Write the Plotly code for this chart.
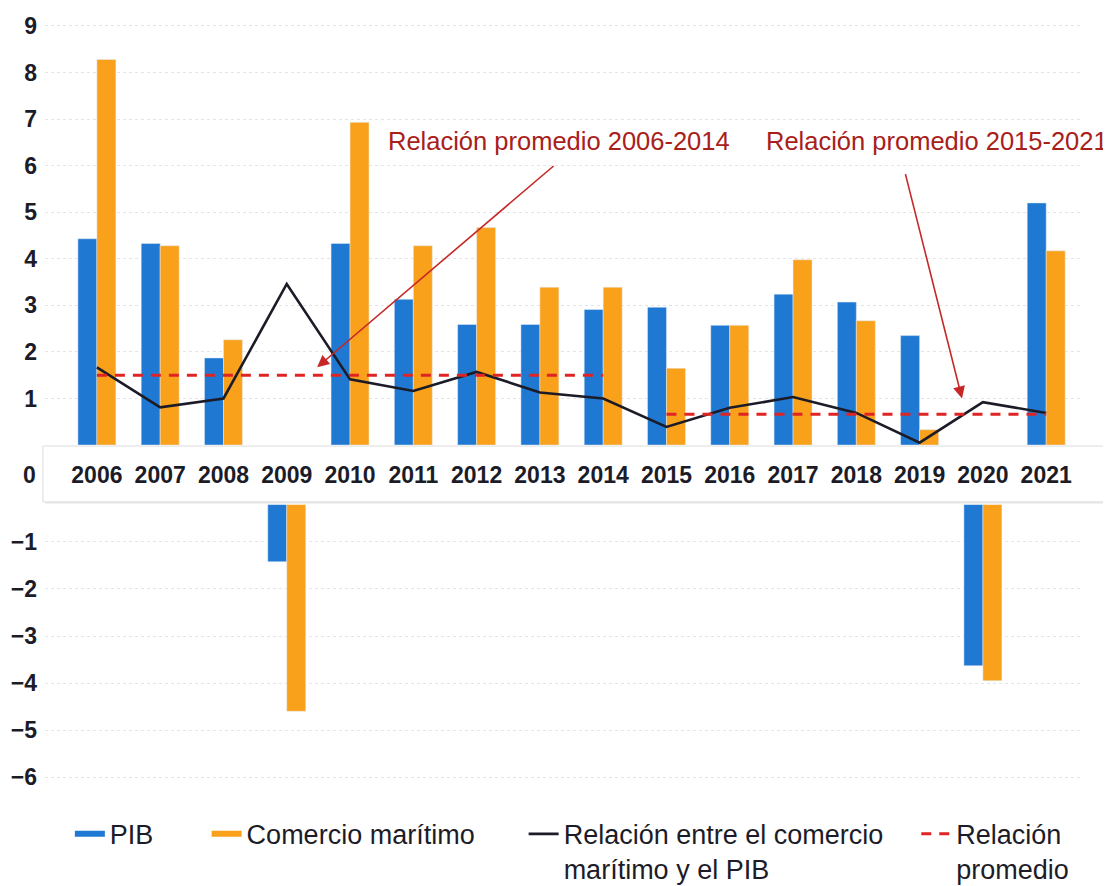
import plotly.graph_objects as go

years = list(range(2006, 2022))
pib = [4.43, 4.33, 1.87, -1.42, 4.33, 3.13, 2.59, 2.59, 2.91, 2.96, 2.57, 3.24, 3.07, 2.35, -3.63, 5.2]
comercio = [8.28, 4.28, 2.26, -4.6, 6.93, 4.28, 4.67, 3.39, 3.39, 1.65, 2.57, 3.98, 2.67, 0.33, -3.95, 4.17]
relacion = [1.67, 0.81, 1.0, 3.46, 1.41, 1.16, 1.57, 1.13, 1.0, 0.39, 0.8, 1.03, 0.69, 0.05, 0.92, 0.69]
years_p1 = years[:9]
years_p2 = years[9:]
prom_p1 = [1.5] * len(years_p1)
prom_p2 = [0.66] * len(years_p2)

AZUL = "#1f78d2"
NARANJA = "#f9a11b"
NEGRO = "#1c1c28"
ROJO = "#e02424"
FONT = "Liberation Sans, Arial, sans-serif"

# positive values go on the upper panel, negative on the lower one
pib_pos = [v if v > 0 else None for v in pib]
pib_neg = [v if v < 0 else None for v in pib]
com_pos = [v if v > 0 else None for v in comercio]
com_neg = [v if v < 0 else None for v in comercio]

fig = go.Figure()

fig.add_trace(go.Bar(x=years, y=pib_pos, marker_color=AZUL, showlegend=False, offsetgroup="a"))
fig.add_trace(go.Bar(x=years, y=com_pos, marker_color=NARANJA, showlegend=False, offsetgroup="b"))
fig.add_trace(go.Bar(x=years, y=pib_neg, marker_color=AZUL, showlegend=False, offsetgroup="a",
                     xaxis="x2", yaxis="y2"))
fig.add_trace(go.Bar(x=years, y=com_neg, marker_color=NARANJA, showlegend=False, offsetgroup="b",
                     xaxis="x2", yaxis="y2"))

fig.add_trace(go.Scatter(x=years, y=relacion, mode="lines", line=dict(color=NEGRO, width=2.6),
                         name="Relación entre el comercio<br>marítimo y el PIB", legend="legend3"))
fig.add_trace(go.Scatter(x=years_p1, y=prom_p1, mode="lines", line=dict(color=ROJO, width=3, dash="10px,8px"),
                         name="Relación<br>promedio", legend="legend4"))
fig.add_trace(go.Scatter(x=years_p2, y=prom_p2, mode="lines", line=dict(color=ROJO, width=3, dash="10px,8px"),
                         showlegend=False))

# legend-only entries for the bars (drawn as short thick lines)
fig.add_trace(go.Scatter(x=[None], y=[None], mode="lines", line=dict(color=AZUL, width=6),
                         name="PIB", legend="legend"))
fig.add_trace(go.Scatter(x=[None], y=[None], mode="lines", line=dict(color=NARANJA, width=6),
                         name="Comercio marítimo", legend="legend2"))

leg = dict(orientation="v", xanchor="left", yanchor="top", y=0.0847, bgcolor="rgba(0,0,0,0)",
           font=dict(family=FONT, size=27, color=NEGRO), itemwidth=30, valign="top")

tick_font = dict(family=FONT, size=23, weight="bold", color=NEGRO)

fig.update_layout(
    width=1111, height=886,
    margin=dict(l=37, r=38, t=0, b=0),
    paper_bgcolor="white", plot_bgcolor="white",
    font=dict(family=FONT, color=NEGRO),
    barmode="group", bargap=0.4, bargroupgap=0,
    xaxis=dict(domain=[0, 1], range=[2005.18, 2021.55], anchor="y", tickvals=years, tickangle=0,
               ticks="", showline=False, showgrid=False, zeroline=False, ticklabelstandoff=14,
               automargin=False, tickfont=dict(family=FONT, size=23, weight="bold", color=NEGRO)),
    yaxis=dict(domain=[0.5011, 1.0], range=[0, 9.386], tickvals=list(range(1, 10)),
               showgrid=True, gridcolor="#e4e4e4", griddash="dot", zeroline=False, automargin=False,
               ticks="", ticklabelstandoff=7, tickfont=tick_font),
    xaxis2=dict(domain=[0, 1], range=[2005.18, 2021.55], anchor="y2", matches="x", automargin=False,
                showticklabels=False, showgrid=False, zeroline=False, showline=False),
    yaxis2=dict(domain=[0.0971, 0.4328], range=[-6.462, -0.212], tickvals=list(range(-6, 0)),
                showgrid=True, gridcolor="#e4e4e4", griddash="dot", zeroline=False, automargin=False,
                ticks="", ticklabelstandoff=7, tickfont=tick_font),
    legend=dict(leg, x=0.024),
    legend2=dict(leg, x=0.156),
    legend3=dict(leg, x=0.462),
    legend4=dict(leg, x=0.841),
)

# white band that carries the year labels
fig.add_shape(type="rect", xref="paper", yref="paper", x0=0.0, x1=1.04, y0=0.4340, y1=0.4978,
              fillcolor="#ececec", line=dict(width=0), layer="below")
fig.add_shape(type="rect", xref="paper", yref="paper", x0=-0.002, x1=1.04, y0=0.4362, y1=0.5,
              fillcolor="white", line=dict(color="#dcdcdc", width=1), layer="below")

fig.add_annotation(xref="paper", yref="paper", x=-0.007, y=0.467, text="0", showarrow=False,
                   xanchor="right", yanchor="middle", font=tick_font)

ROJO_TXT = "#a8201a"
fig.add_annotation(x=2013.3, y=6.52, xref="x", yref="y", text="Relación promedio 2006-2014",
                   showarrow=False, font=dict(family=FONT, size=25.5, color=ROJO_TXT))
fig.add_annotation(x=2019.28, y=6.52, xref="x", yref="y", text="Relación promedio 2015-2021",
                   showarrow=False, font=dict(family=FONT, size=25.5, color=ROJO_TXT))
fig.add_annotation(x=2009.48, y=1.67, ax=2013.24, ay=6.02, xref="x", yref="y", axref="x", ayref="y",
                   text="", showarrow=True, arrowhead=2, arrowsize=1.5, arrowwidth=1.6, arrowcolor="#c62828")
fig.add_annotation(x=2019.67, y=1.0, ax=2018.77, ay=5.85, xref="x", yref="y", axref="x", ayref="y",
                   text="", showarrow=True, arrowhead=2, arrowsize=1.5, arrowwidth=1.6, arrowcolor="#c62828")

fig.write_html("out.html")
